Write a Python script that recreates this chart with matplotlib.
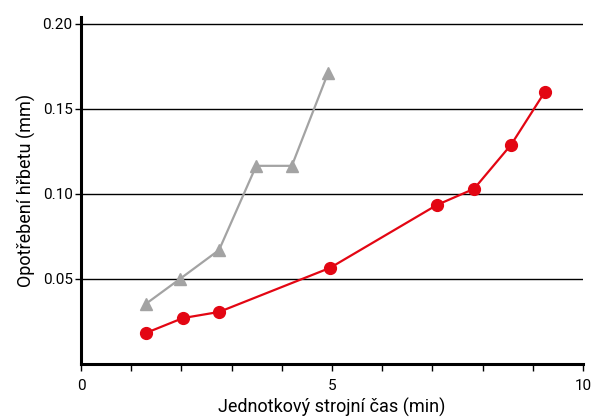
import matplotlib
matplotlib.use("Agg")
import matplotlib.pyplot as plt
from matplotlib.ticker import MultipleLocator

plt.rcParams['font.family'] = ['Roboto', 'DejaVu Sans']

red_x = [1.29, 2.03, 2.75, 4.96, 7.09, 7.83, 8.57, 9.24]
red_y = [0.0182, 0.027, 0.0306, 0.0565, 0.0935, 0.103, 0.129, 0.160]
gray_x = [1.29, 1.97, 2.75, 3.49, 4.20, 4.92]
gray_y = [0.0353, 0.050, 0.067, 0.1165, 0.1165, 0.171]
x_ticks = [0, 5, 10]
y_ticks = [0.05, 0.10, 0.15, 0.20]
y_tick_labels = ["0.05", "0.10", "0.15", "0.20"]

fig = plt.figure(figsize=(5.93, 4.18), dpi=100)
ax = fig.add_axes([81/593, 1-364/418, (583-81)/593, (364-17)/418])

for y in y_ticks:
    ax.axhline(y, color='black', lw=1.0, zorder=1)

ax.plot(gray_x, gray_y, color='#a3a3a3', lw=1.6, marker='^', ms=9, zorder=3, clip_on=False)
ax.plot(red_x, red_y, color='#e30613', lw=1.6, marker='o', ms=8.5, zorder=4, clip_on=False)

ax.set_xlim(0, 10)
ax.set_ylim(0, 0.204)
ax.set_xticks(x_ticks)
ax.set_xticklabels([str(t) for t in x_ticks])
ax.xaxis.set_minor_locator(MultipleLocator(1))
ax.set_yticks(y_ticks)
ax.set_yticklabels(y_tick_labels)

for s in ['top', 'right']:
    ax.spines[s].set_visible(False)
for s in ['left', 'bottom']:
    ax.spines[s].set_linewidth(2.2)
    ax.spines[s].set_color('black')

ax.tick_params(axis='x', which='both', direction='out', length=5, width=1, labelsize=11, pad=6, color='black')
ax.tick_params(axis='y', which='major', direction='out', length=4, width=1, labelsize=11, pad=2)

ax.set_xlabel("Jednotkový strojní čas (min)", fontsize=13, labelpad=3)
ax.set_ylabel("Opotřebení hřbetu (mm)", fontsize=13, labelpad=5)

fig.savefig("out.png", dpi=100)
